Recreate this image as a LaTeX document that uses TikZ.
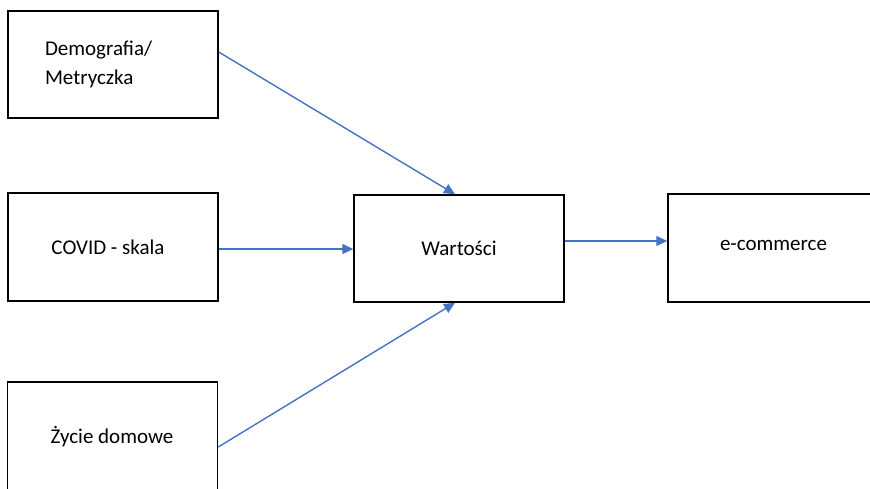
\documentclass[tikz,border=0pt]{standalone}
\usepackage{fontspec}
\setmainfont{Carlito}
\usetikzlibrary{arrows.meta}
\definecolor{flow}{HTML}{4472C4}
\tikzset{
  block/.style={draw=black, line width=1.5pt, rectangle, inner sep=0pt,
    minimum width=210pt, minimum height=107pt,
    font=\fontsize{21}{29}\selectfont},
  link/.style={draw=flow, line width=1.4pt,
    -{Triangle[length=11pt,width=10pt]}}
}
\begin{document}
\begin{tikzpicture}[x=1pt,y=-1pt]
\useasboundingbox (0,0) rectangle (870,488);
\clip (0,0) rectangle (870,488);

% input boxes
\node[block, text width=136pt, inner xsep=37pt, align=left] (d) at (113,64.5)
  {Demografia/\\Metryczka};
\node[block, minimum height=108pt] (c) at (113,247) {};
\node at (108,247) {\fontsize{21}{29}\selectfont COVID - skala};
\node[block, minimum height=110pt] (z) at (112.5,437) {};
\node at (112,437) {\fontsize{21}{29}\selectfont Życie domowe};

% central and output boxes (the output box runs past the right edge)
\node[block] (w) at (459,248.5) {Wartości};
\node[block, minimum width=212pt, minimum height=108pt] (e) at (774,248) {};
\node at (773.5,245) {\fontsize{21}{29}\selectfont e-commerce};

% connectors
\draw[link] ([yshift=12.5pt]d.east) -- ([xshift=-4pt]w.north);
\draw[link] ([yshift=-2pt]c.east) -- ([yshift=-2pt]c.east -| w.west);
\draw[link] ([yshift=-10pt]z.east) -- ([xshift=-4pt]w.south);
\draw[link] ([yshift=7.5pt]w.east) -- ([yshift=7.5pt]w.east -| e.west);
\end{tikzpicture}
\end{document}
